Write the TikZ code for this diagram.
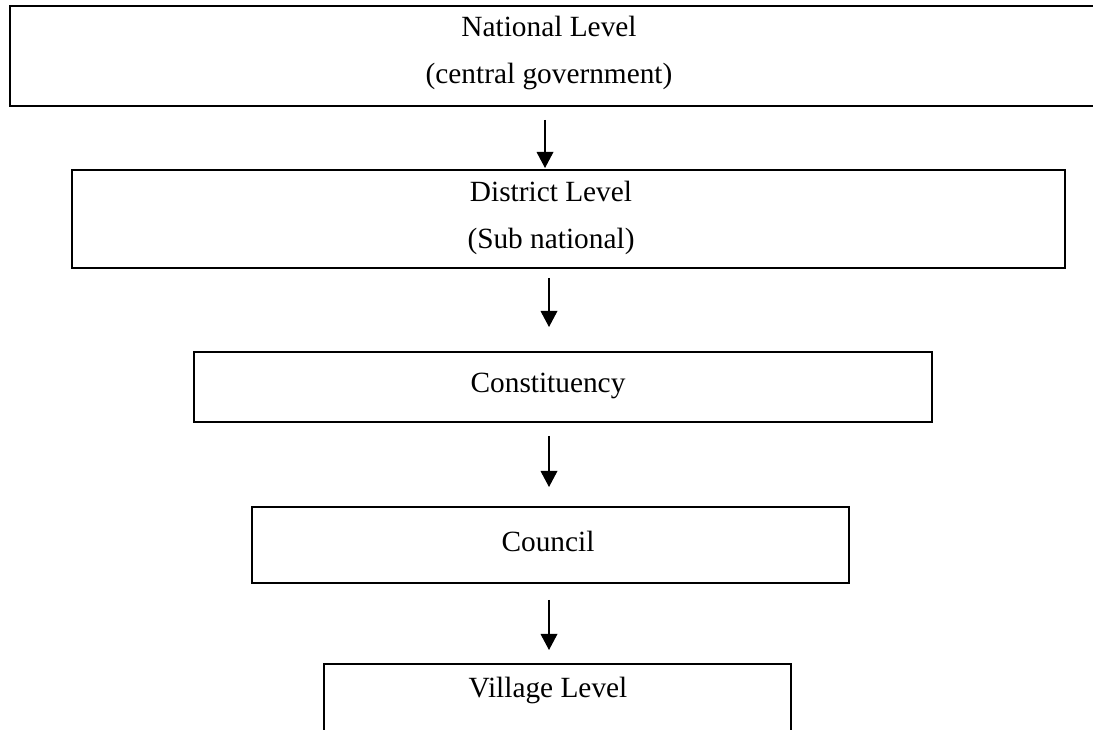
\documentclass[tikz,border=0pt]{standalone}
\usepackage{fontspec}
\setmainfont{Liberation Serif}
\usetikzlibrary{arrows.meta}
\begin{document}
\begin{tikzpicture}[x=0.75pt,y=-0.75pt,
  boxline/.style={line width=1.5pt},
  boxn/.style={draw, line width=1.5pt, inner sep=0pt},
  lbl/.style={font=\fontsize{22}{35}\selectfont, align=center, inner sep=0pt},
  arr/.style={line width=1pt,-{Triangle[length=12pt,width=12.5pt]}}]
\useasboundingbox (0,0) rectangle (1093,730);
% National (open on the right)
\draw[boxline] (1093,6) -| (10,106) -- (1093,106);
\node[lbl] (national) at (549,53) {National Level\\(central government)};
% District
\node[boxn, minimum width=744.75pt, minimum height=73.5pt] (district) at (568.5,219) {};
\node[lbl] (districtt) at (551,218) {District Level\\(Sub national)};
% Constituency
\node[boxn, minimum width=553.5pt, minimum height=52.5pt] (const) at (563,387) {};
\node[lbl] (constt) at (548,386) {Constituency};
% Council
\node[boxn, minimum width=447.75pt, minimum height=57pt] (council) at (550.5,545) {};
\node[lbl] (councilt) at (548,541) {Council};
% Village (open at the bottom)
\draw[boxline] (324,731) |- (791,664) -- (791,731);
\node[lbl] (village) at (548,690) {Village Level};
% arrows
\coordinate (a1s) at (545,120); \coordinate (a1e) at (545,168);
\coordinate (a2s) at (549,278); \coordinate (a2e) at (549,327);
\coordinate (a3s) at (549,436); \coordinate (a3e) at (549,487);
\coordinate (a4s) at (549,600); \coordinate (a4e) at (549,650);
\draw[arr] (a1s) -- (a1e);
\draw[arr] (a2s) -- (a2e);
\draw[arr] (a3s) -- (a3e);
\draw[arr] (a4s) -- (a4e);
\end{tikzpicture}
\end{document}
